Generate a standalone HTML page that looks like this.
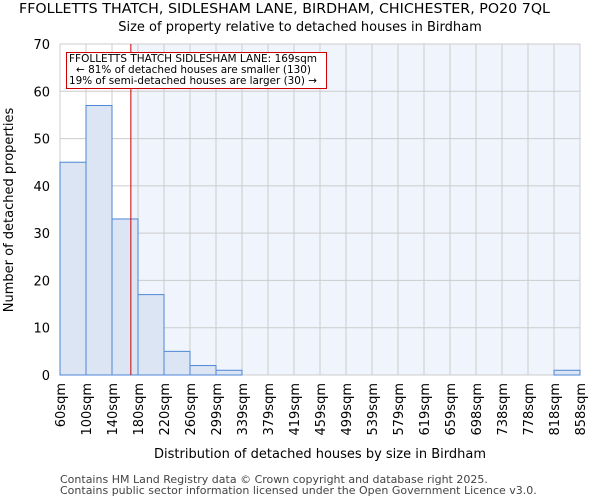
<!DOCTYPE html>
<html><head><meta charset="utf-8"><style>
body{margin:0;background:#fff;font-family:"DejaVu Sans","Liberation Sans",sans-serif;}
svg text{font-family:"DejaVu Sans","Liberation Sans",sans-serif;}
</style></head><body>
<svg id="chart" width="600" height="500" xmlns="http://www.w3.org/2000/svg">
<text x="19" y="13" textLength="531" lengthAdjust="spacingAndGlyphs" font-size="13">FFOLLETTS THATCH, SIDLESHAM LANE, BIRDHAM, CHICHESTER, PO20 7QL</text>
<text x="300" y="31" text-anchor="middle" font-size="13">Size of property relative to detached houses in Birdham</text>
<g id="plot"></g>
<text x="320" y="458" text-anchor="middle" font-size="13">Distribution of detached houses by size in Birdham</text>
<text transform="translate(13,210) rotate(-90)" text-anchor="middle" font-size="13">Number of detached properties</text>
<text x="60" y="483" font-size="11" fill="#444">Contains HM Land Registry data © Crown copyright and database right 2025.</text>
<text x="60" y="494" font-size="11" fill="#444">Contains public sector information licensed under the Open Government Licence v3.0.</text>
</svg>
<script>
const tickLabels=["60sqm","100sqm","140sqm","180sqm","220sqm","260sqm","299sqm","339sqm","379sqm","419sqm","459sqm","499sqm","539sqm","579sqm","619sqm","659sqm","698sqm","738sqm","778sqm","818sqm","858sqm"];
const counts=[45,57,33,17,5,2,1,0,0,0,0,0,0,0,0,0,0,0,0,1];
const yTicks=[0,10,20,30,40,50,60,70];
const markerValue=169;
const binStart=60, binWidth=40;
const L=60,R=580,T=44,B=375,yMax=70;
const nb=counts.length, bw=(R-L)/nb;
const xs=v=>L+(v-binStart)/binWidth*bw;
const ys=v=>B-(v/yMax)*(B-T);
const NS="http://www.w3.org/2000/svg";
const g=document.getElementById('plot');
function mk(t,a){const e=document.createElementNS(NS,t);for(const k in a)e.setAttribute(k,a[k]);g.appendChild(e);return e;}
const mx=xs(markerValue);
let e=mk('rect',{x:mx,y:T,width:R-mx,height:B-T,fill:'#f0f4fd'});


yTicks.forEach(v=>{
 const l=mk('line',{x1:L,x2:R,y1:ys(v),y2:ys(v),stroke:'#cccccc','stroke-width':1});
 
 
 const t=mk('text',{x:L-10,y:ys(v)+5,'text-anchor':'end','font-size':13});
 t.textContent=v;
 
 
});
tickLabels.forEach((s,i)=>{
 const x=L+i*bw;
 const l=mk('line',{x1:x,x2:x,y1:T,y2:B,stroke:'#cccccc','stroke-width':1});
 
 
 const t=mk('text',{transform:`translate(${x+5},383) rotate(-90)`,'text-anchor':'end','font-size':13});
 t.textContent=s;
 
 
});
counts.forEach((c,i)=>{
 if(c<=0)return;
 const r=mk('rect',{x:L+i*bw,y:ys(c),width:bw,height:B-ys(c),fill:'#dbe5f4',stroke:'#4f86d6','stroke-width':1});
 
 
});
e=mk('line',{x1:mx,x2:mx,y1:T,y2:B,stroke:'#cc0000','stroke-width':1});


e=mk('rect',{x:66.5,y:52.5,width:260,height:36,fill:'#fff',stroke:'#cc0000','stroke-width':1});


const annLines=["FFOLLETTS THATCH SIDLESHAM LANE: 169sqm","← 81% of detached houses are smaller (130)","19% of semi-detached houses are larger (30) →"];
const annX=[69,76,69], annW=[248,235,248];
annLines.forEach((s,i)=>{
 const t=mk('text',{x:annX[i],y:62+i*11,textLength:annW[i],lengthAdjust:'spacingAndGlyphs','font-size':10.5});
 t.textContent=s;
 
 
});
</script>
</body></html>
